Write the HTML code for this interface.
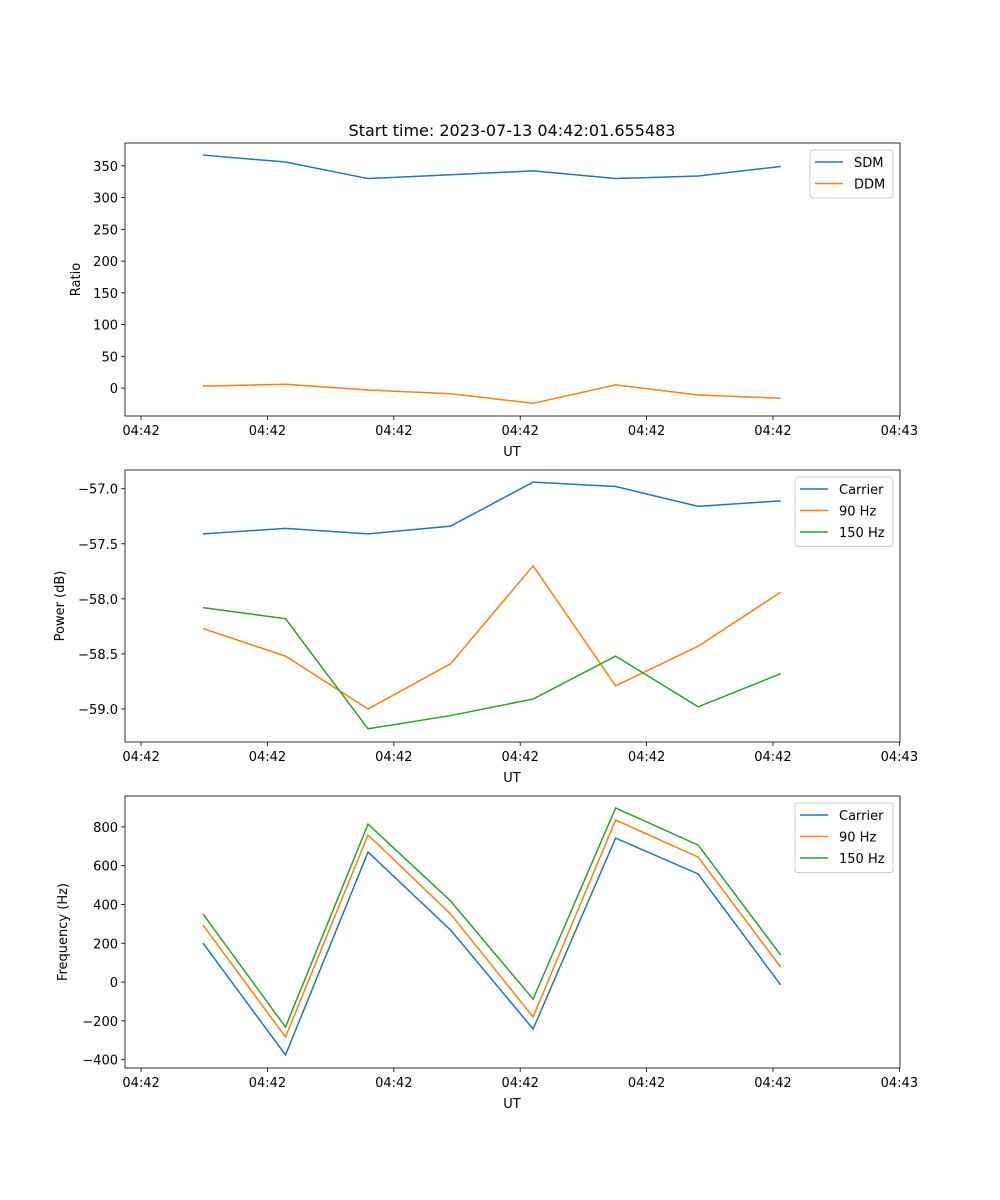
<!DOCTYPE html>
<html><head><meta charset="utf-8"><style>
body{margin:0;background:#fff}
svg{display:block;font-family:"DejaVu Sans","Liberation Sans",sans-serif}
</style></head><body>
<svg id="c" width="1000" height="1200" xmlns="http://www.w3.org/2000/svg">
<text x="512" y="136" text-anchor="middle" font-size="16">Start time: 2023-07-13 04:42:01.655483</text>
</svg>
<script>
const xTickLabels=["04:42","04:42","04:42","04:42","04:42","04:42","04:43"];
const xTickVals=[0,1,2,3,4,5,6];
const times=[0.49,1.143,1.796,2.449,3.102,3.755,4.408,5.061];
const sdm=[367,356,330,336,342,330,334,349];
const ddm=[3,6,-3,-9,-24,5,-11,-16];
const pwrCarrier=[-57.41,-57.36,-57.41,-57.34,-56.94,-56.98,-57.16,-57.11];
const pwr90=[-58.27,-58.52,-59.0,-58.59,-57.70,-58.79,-58.43,-57.94];
const pwr150=[-58.08,-58.18,-59.18,-59.06,-58.91,-58.52,-58.98,-58.68];
const frqCarrier=[201,-376,670,268,-242,742,557,-15];
const frq90=[294,-283,758,351,-180,835,644,77];
const frq150=[351,-232,814,418,-88,897,706,139];
const ticks1=[0,50,100,150,200,250,300,350];
const ticks2=[-59.0,-58.5,-58.0,-57.5,-57.0];
const ticks3=[-400,-200,0,200,400,600,800];

const svg=document.getElementById('c');
const NS='http://www.w3.org/2000/svg';
function mk(t,a,p){const e=document.createElementNS(NS,t);for(const k in a)e.setAttribute(k,a[k]);(p||svg).appendChild(e);return e;}
const X0=125,X1=900,xmin=-0.127,xmax=6.005;
const xs=v=>X0+(v-xmin)/(xmax-xmin)*(X1-X0);

function panel(name,top,bot,ymin,ymax,yt,yfmt,ylabel,ylx,series,leg){
  const ys=v=>bot-(v-ymin)/(ymax-ymin)*(bot-top);
  const g=mk('g',{});
  
  
  series.forEach(s=>{
    const p=mk('polyline',{points:s.d.map((v,i)=>xs(times[i])+','+ys(v)).join(' '),fill:'none',stroke:s.c,'stroke-width':1.5},g);
    
    
  });
  const fr=mk('rect',{x:X0,y:top,width:X1-X0,height:bot-top,fill:'none',stroke:'#000','stroke-width':0.8},g);
  
  
  xTickVals.forEach((v,i)=>{
    const x=xs(v);
    mk('line',{x1:x,x2:x,y1:bot,y2:bot+4,stroke:'#000','stroke-width':0.8},g);
    const t=mk('text',{x:x,y:bot+19,'text-anchor':'middle','font-size':13},g);
    t.textContent=xTickLabels[i];
    
    
  });
  const xl=mk('text',{x:512,y:bot+40,'text-anchor':'middle','font-size':13},g);
  xl.textContent='UT';
  
  
  yt.forEach(v=>{
    const y=ys(v);
    mk('line',{x1:X0-4,x2:X0,y1:y,y2:y,stroke:'#000','stroke-width':0.8},g);
    const t=mk('text',{x:X0-7,y:y+5,'text-anchor':'end','font-size':13},g);
    t.textContent=yfmt(v);
    
    
  });
  const yl=mk('text',{x:ylx,y:(top+bot)/2,'text-anchor':'middle','font-size':13,transform:'rotate(-90 '+ylx+' '+(top+bot)/2+')'},g);
  yl.textContent=ylabel;
  
  
  const lg=mk('g',{},g);
  
  
  mk('rect',{x:leg[0],y:top+7,width:leg[1],height:series.length*21.5+5,rx:3,fill:'#fff',stroke:'#ccc','stroke-width':1},lg);
  series.forEach((s,i)=>{
    const y=top+19+i*21.5;
    mk('line',{x1:leg[0]+5,x2:leg[0]+33,y1:y,y2:y,stroke:s.c,'stroke-width':1.5},lg);
    const t=mk('text',{x:leg[0]+44,y:y+5,'font-size':13},lg);
    t.textContent=s.n;
    
    
  });
}
const B='#1f77b4',O='#ff7f0e',G='#2ca02c';
panel('ratio',143,416,-44,386,ticks1,v=>v.toFixed(0),'Ratio',80,[{n:'SDM',d:sdm,c:B},{n:'DDM',d:ddm,c:O}],[810,83]);
panel('power',470,742,-59.30,-56.83,ticks2,v=>v.toFixed(1).replace('-','\u2212'),'Power (dB)',64,[{n:'Carrier',d:pwrCarrier,c:B},{n:'90 Hz',d:pwr90,c:O},{n:'150 Hz',d:pwr150,c:G}],[795,98]);
panel('frequency',796,1068,-443,959,ticks3,v=>String(v).replace('-','\u2212'),'Frequency (Hz)',67,[{n:'Carrier',d:frqCarrier,c:B},{n:'90 Hz',d:frq90,c:O},{n:'150 Hz',d:frq150,c:G}],[795,98]);
</script>
</body></html>
